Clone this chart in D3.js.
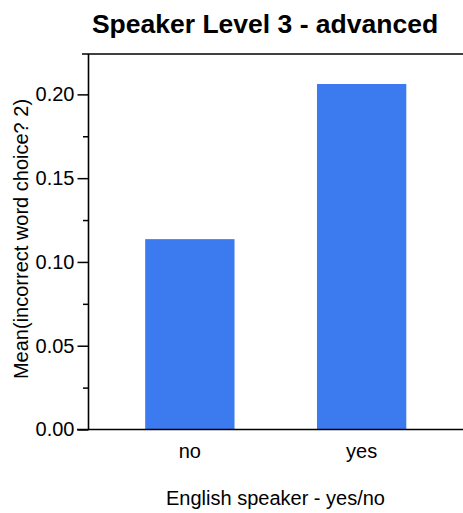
<!DOCTYPE html>
<html>
<head>
<meta charset="utf-8">
<script src="https://cdn.jsdelivr.net/npm/d3@7"></script>
<style>
  html, body { margin: 0; padding: 0; background: #fff; }
  svg { display: block; }
  text { font-family: "Liberation Sans", Arial, Helvetica, sans-serif; fill: #000; }
</style>
</head>
<body>
<svg id="chart" width="463" height="513"></svg>
<script>
const title = "Speaker Level 3 - advanced";
const xTitle = "English speaker - yes/no";
const yTitle = "Mean(incorrect word choice? 2)";
const categories = ["no", "yes"];
const values = [0.1136, 0.2062];
const yDomain = [0, 0.2241];
const majorTicks = [0, 0.05, 0.10, 0.15, 0.20];
const minorTicks = [0.025, 0.075, 0.125, 0.175];

const svg = d3.select("#chart");
const plotLeft = 88.5, plotRight = 463, plotTop = 54, plotBottom = 429.5;

const x = d3.scaleBand().domain(categories).range([plotLeft, plotRight])
  .paddingInner(0.48).paddingOuter(0.33);
const y = d3.scaleLinear().domain(yDomain).range([plotBottom, plotTop]);

// bars
svg.append("g").selectAll("rect").data(categories).join("rect")
  .attr("x", d => x(d))
  .attr("width", x.bandwidth())
  .attr("y", (d, i) => y(values[i]))
  .attr("height", (d, i) => plotBottom - y(values[i]))
  .attr("fill", "#3b7bef");

// y axis major
const yAxis = d3.axisLeft(y).tickValues(majorTicks).tickSize(11).tickPadding(3)
  .tickFormat(d3.format(".2f"));
const gy = svg.append("g").attr("transform", `translate(${plotLeft},0)`).call(yAxis);
gy.select(".domain").remove();
gy.selectAll(".tick line").attr("stroke", "#000").attr("stroke-width", 1.5);
gy.selectAll(".tick text").style("font-size", "20px").attr("font-family", null);

// y axis minor
const yMinor = d3.axisLeft(y).tickValues(minorTicks).tickSize(5.5).tickFormat("");
const gm = svg.append("g").attr("transform", `translate(${plotLeft},0)`).call(yMinor);
gm.select(".domain").remove();
gm.selectAll(".tick line").attr("stroke", "#000").attr("stroke-width", 1.5);

// x axis labels
const xAxis = d3.axisBottom(x).tickSize(0).tickPadding(14);
const gx = svg.append("g").attr("transform", `translate(0,${plotBottom})`).call(xAxis);
gx.select(".domain").remove();
gx.selectAll(".tick text").style("font-size", "20px").attr("font-family", null);

// frame lines
svg.append("line").attr("x1", plotLeft).attr("x2", plotLeft).attr("y1", plotTop).attr("y2", plotBottom)
  .attr("stroke", "#000").attr("stroke-width", 1.6);
svg.append("line").attr("x1", 82).attr("x2", plotRight).attr("y1", plotTop).attr("y2", plotTop)
  .attr("stroke", "#000").attr("stroke-width", 1.5);
svg.append("line").attr("x1", 77).attr("x2", plotRight).attr("y1", plotBottom).attr("y2", plotBottom)
  .attr("stroke", "#000").attr("stroke-width", 1.5);

// titles
svg.append("text").attr("x", 265).attr("y", 33).attr("text-anchor", "middle")
  .style("font-size", "26.5px").style("font-weight", "bold").text(title);
svg.append("text").attr("x", 275.5).attr("y", 505).attr("text-anchor", "middle")
  .style("font-size", "20px").text(xTitle);
svg.append("text").attr("transform", "translate(28,239) rotate(-90)")
  .attr("text-anchor", "middle").style("font-size", "20px").text(yTitle);
</script>
</body>
</html>
